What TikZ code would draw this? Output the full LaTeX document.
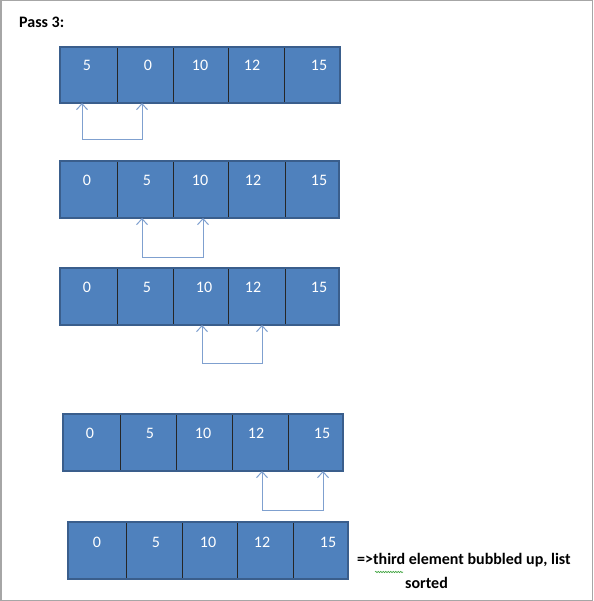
\documentclass[tikz,border=0pt]{standalone}
\usepackage{fontspec}
\setmainfont{Carlito}
\usetikzlibrary{arrows.meta,decorations.pathmorphing}
\definecolor{cellblue}{HTML}{4F81BD}
\definecolor{edgeblue}{HTML}{3A5E8C}
\definecolor{arrowblue}{HTML}{7FA0CF}
\definecolor{framegray}{HTML}{A6A6A6}
\definecolor{spellgreen}{HTML}{3FA33F}
\tikzset{
  cellbox/.style={draw=black!85, line width=0.9pt, fill=cellblue, inner sep=0pt, outer sep=0pt},
  rowframe/.style={draw=edgeblue, line width=2pt},
  num/.style={text=white, font=\fontsize{16}{19}\selectfont, inner sep=0pt},
  note/.style={text=black, font=\bfseries\fontsize{16}{19}\selectfont, inner sep=0pt, anchor=west},
  swaparrow/.style={draw=arrowblue, line width=1pt, {Straight Barb[length=6pt,width=11pt]}-{Straight Barb[length=6pt,width=11pt]}},
}
\newcommand\mkcell[5]{%
  \node[cellbox, minimum width={#3-#2}, minimum height={#5-#4}] (#1) at ({(#2+#3)/2},{(#4+#5)/2}) {};}
\begin{document}
\begin{tikzpicture}[x=1pt,y=-1pt]
\useasboundingbox (0,0) rectangle (593,601);
\draw[framegray, line width=1.5pt] (0.75,0.75) rectangle (592.25,600.25);

\node[note] (title) at (19,22) {Pass 3:};

% row 1
\mkcell{c11}{60}{117}{47}{103}
\mkcell{c12}{117}{173}{47}{103}
\mkcell{c13}{173}{228}{47}{103}
\mkcell{c14}{228}{284}{47}{103}
\mkcell{c15}{284}{340}{47}{103}
\draw[rowframe] (c11.north west) rectangle (c15.south east);
\node[num] (t11) at (87,65) {5};
\node[num] (t12) at (148,65) {0};
\node[num] (t13) at (200,65) {10};
\node[num] (t14) at (252,65) {12};
\node[num] (t15) at (319,65) {15};
\coordinate (b1a) at (82,140);
\coordinate (b1b) at (142,140);
\draw[swaparrow] (c11.south -| b1a) -- (b1a) -- (b1b) -- (c12.south -| b1b);

% row 2
\mkcell{c21}{60}{117}{161}{218}
\mkcell{c22}{117}{173}{161}{218}
\mkcell{c23}{173}{228}{161}{218}
\mkcell{c24}{228}{285}{161}{218}
\mkcell{c25}{285}{339}{161}{218}
\draw[rowframe] (c21.north west) rectangle (c25.south east);
\node[num] (t21) at (87,180) {0};
\node[num] (t22) at (147,180) {5};
\node[num] (t23) at (200,180) {10};
\node[num] (t24) at (253,180) {12};
\node[num] (t25) at (319,180) {15};
\coordinate (b2a) at (142,257);
\coordinate (b2b) at (203,257);
\draw[swaparrow] (c22.south -| b2a) -- (b2a) -- (b2b) -- (c23.south -| b2b);

% row 3
\mkcell{c31}{60}{117}{268}{325}
\mkcell{c32}{117}{173}{268}{325}
\mkcell{c33}{173}{228}{268}{325}
\mkcell{c34}{228}{285}{268}{325}
\mkcell{c35}{285}{339}{268}{325}
\draw[rowframe] (c31.north west) rectangle (c35.south east);
\node[num] (t31) at (87,287) {0};
\node[num] (t32) at (147,287) {5};
\node[num] (t33) at (204,287) {10};
\node[num] (t34) at (253,287) {12};
\node[num] (t35) at (319,287) {15};
\coordinate (b3a) at (202,363);
\coordinate (b3b) at (262,363);
\draw[swaparrow] (c33.south -| b3a) -- (b3a) -- (b3b) -- (c34.south -| b3b);

% row 4
\mkcell{c41}{63}{120}{414}{471}
\mkcell{c42}{120}{176}{414}{471}
\mkcell{c43}{176}{232}{414}{471}
\mkcell{c44}{232}{288}{414}{471}
\mkcell{c45}{288}{343}{414}{471}
\draw[rowframe] (c41.north west) rectangle (c45.south east);
\node[num] (t41) at (90,433) {0};
\node[num] (t42) at (150,433) {5};
\node[num] (t43) at (203,433) {10};
\node[num] (t44) at (256,433) {12};
\node[num] (t45) at (322,433) {15};
\coordinate (b4a) at (262,510);
\coordinate (b4b) at (323,510);
\draw[swaparrow] (c44.south -| b4a) -- (b4a) -- (b4b) -- (c45.south -| b4b);

% row 5
\mkcell{c51}{68}{126}{522}{579}
\mkcell{c52}{126}{182}{522}{579}
\mkcell{c53}{182}{237}{522}{579}
\mkcell{c54}{237}{293}{522}{579}
\mkcell{c55}{293}{348}{522}{579}
\draw[rowframe] (c51.north west) rectangle (c55.south east);
\node[num] (t51) at (97,542) {0};
\node[num] (t52) at (156,542) {5};
\node[num] (t53) at (208,542) {10};
\node[num] (t54) at (262,542) {12};
\node[num] (t55) at (328,542) {15};

\node[note] (n1) at (357,560) {=>third element bubbled up, list};
\node[note] (n2) at (405,583) {sorted};
\draw[spellgreen, line width=0.6pt, decorate, decoration={snake, amplitude=0.7pt, segment length=2.5pt}] (375,572) -- (403,572);
\end{tikzpicture}
\end{document}
